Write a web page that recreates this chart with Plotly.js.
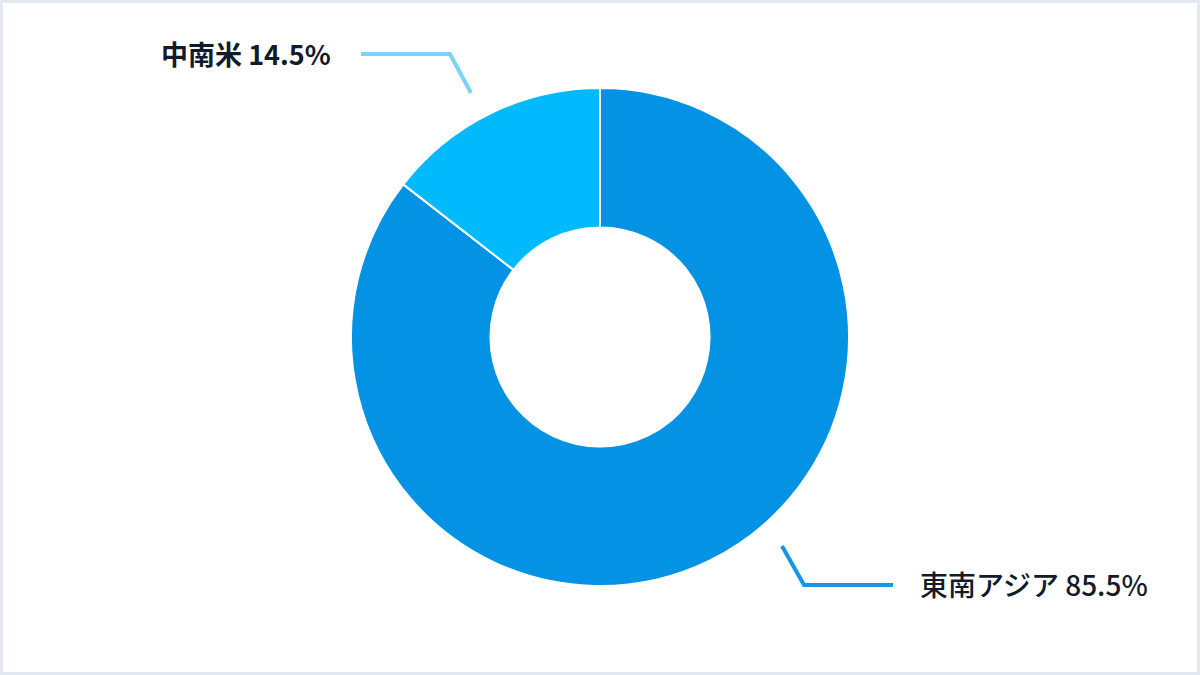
<!DOCTYPE html>
<html>
<head>
<meta charset="utf-8">
<script src="https://cdn.plot.ly/plotly-3.0.1.min.js"></script>
<style>
  html, body { margin: 0; padding: 0; background: #ffffff; }
  #chart { width: 1200px; height: 675px; }
</style>
</head>
<body>
<div id="chart"></div>
<script>
// ---- data ----
const regions = ["東南アジア", "中南米"];
const shares = [85.5, 14.5];
const sliceColors = ["#0492E4", "#00BAFE"];
const leaderColors = ["#1796E4", "#7BD2FB"];

// ---- helpers: pixel -> paper (margins are zero, paper = full figure) ----
const W = 1200, H = 675;
const px = x => x / W;
const py = y => 1 - y / H;

// label layout (positions only, text comes from data)
const labelLayout = [
  { // 東南アジア
    path: [[782, 546], [804, 585], [893, 585]],
    text: [918, 584], anchor: "left", weight: 500, size: 28
  },
  { // 中南米
    path: [[471, 93], [450, 54], [361, 54]],
    text: [333, 54], anchor: "right", weight: 700, size: 27
  }
];

const pieTrace = {
  type: "pie",
  labels: regions,
  values: shares,
  sort: false,
  direction: "clockwise",
  rotation: 0,
  hole: 0.44,
  textinfo: "none",
  hoverinfo: "label+percent",
  marker: { colors: sliceColors, line: { color: "#ffffff", width: 2 } },
  domain: { x: [0, 1], y: [(H - 586) / H, (H - 88) / H] },
  showlegend: false
};

const shapes = [{
  type: "rect", xref: "paper", yref: "paper",
  x0: px(1.5), x1: px(W - 1.5), y0: py(H - 1.5), y1: py(1.5),
  line: { color: "#E3E9F1", width: 3 }, fillcolor: "rgba(0,0,0,0)"
}];
const annotations = [];

regions.forEach((name, i) => {
  const L = labelLayout[i];
  const d = L.path.map((p, k) => (k === 0 ? "M" : "L") + px(p[0]) + "," + py(p[1])).join(" ");
  shapes.push({
    type: "path", xref: "paper", yref: "paper", path: d,
    line: { color: leaderColors[i], width: 4 }
  });
  annotations.push({
    xref: "paper", yref: "paper",
    x: px(L.text[0]), y: py(L.text[1]),
    xanchor: L.anchor, yanchor: "middle",
    showarrow: false,
    text: name + " " + shares[i].toFixed(1) + "%",
    font: { family: "Noto Sans CJK JP, Noto Sans, sans-serif", size: L.size, color: "#111B2A", weight: L.weight }
  });
});

const layout = {
  width: W, height: H,
  margin: { l: 0, r: 0, t: 0, b: 0 },
  paper_bgcolor: "#ffffff",
  plot_bgcolor: "#ffffff",
  shapes: shapes,
  annotations: annotations
};

Plotly.newPlot("chart", [pieTrace], layout, { displayModeBar: false, staticPlot: true });
</script>
</body>
</html>
